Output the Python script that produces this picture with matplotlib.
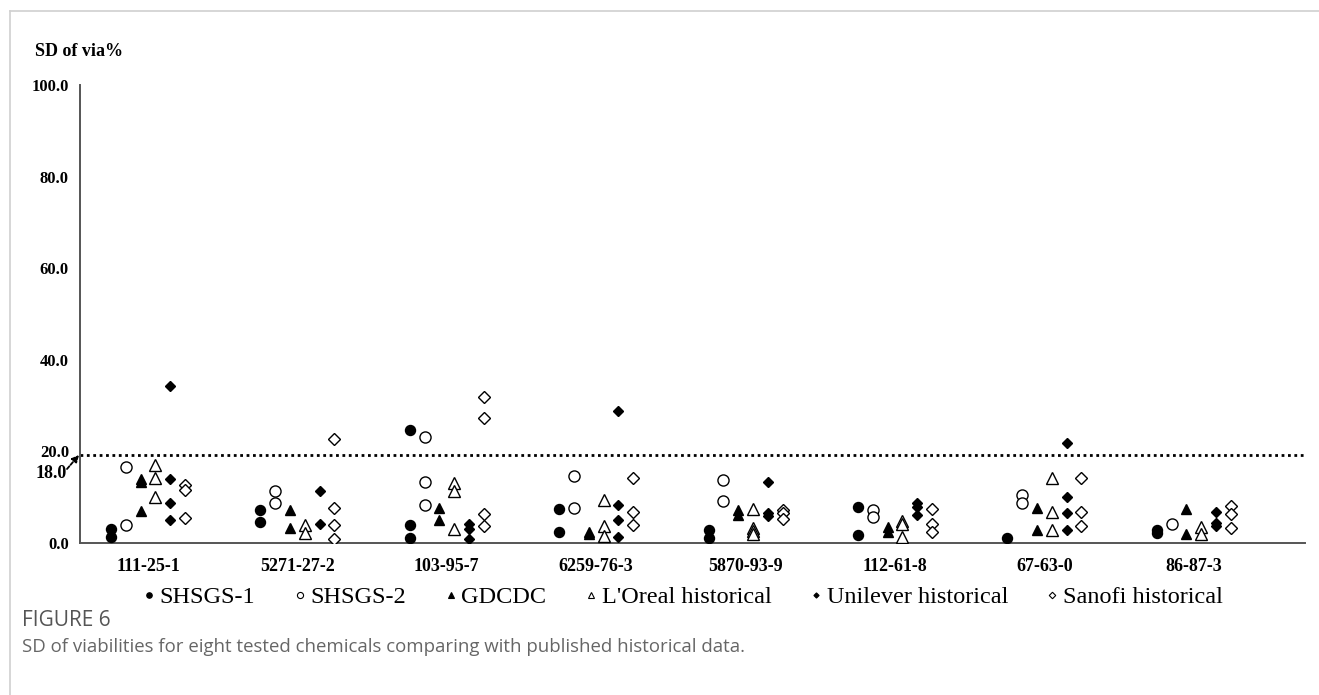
import numpy as np
import matplotlib
matplotlib.use("Agg")
import matplotlib.pyplot as plt
from matplotlib.lines import Line2D

categories = ["111-25-1", "5271-27-2", "103-95-7", "6259-76-3",
              "5870-93-9", "112-61-8", "67-63-0", "86-87-3"]

shsgs1 = [[3.0, 1.4], [7.1, 4.5], [24.7, 3.9, 1.1], [7.4, 2.3],
          [2.8, 1.2], [7.9, 1.7], [1.2], [2.8, 2.1]]
shsgs2 = [[16.7, 3.9], [11.4, 8.7], [23.1, 13.4, 8.4], [14.7, 7.6],
          [13.7, 9.2], [7.1, 5.6], [10.5, 8.7], [4.1]]
gdcdc = [[13.9, 13.4, 6.9], [7.1, 3.3], [7.6, 5.0], [2.4, 1.9],
         [7.1, 6.1], [3.4, 2.5], [7.6, 2.8], [7.4, 1.9]]
loreal = [[17.1, 14.3, 10.1], [3.9, 2.1], [13.2, 11.4, 3.0], [9.4, 3.8, 1.5],
          [7.4, 3.3, 2.6, 1.9], [4.9, 4.1, 1.4], [14.3, 6.7, 2.8], [3.4, 2.0]]
unilever = [[34.3, 14.0, 8.7, 5.0], [11.4, 4.1], [4.1, 3.0, 0.9], [28.8, 8.3, 5.0, 1.4],
            [13.3, 6.6, 5.9], [8.8, 7.8, 6.1], [21.9, 10.1, 6.5, 2.8], [6.8, 4.4, 3.7]]
sanofi = [[12.7, 11.6, 5.4], [22.8, 7.7, 3.9, 0.8], [31.8, 27.2, 6.3, 3.7], [14.2, 6.8, 3.9],
          [7.2, 6.5, 5.2], [7.4, 4.1, 2.3], [14.1, 6.8, 3.8], [8.1, 6.3, 3.3]]

series_names = ["SHSGS-1", "SHSGS-2", "GDCDC", "L'Oreal historical",
                "Unilever historical", "Sanofi historical"]
threshold = 19.2
yticks = [0.0, 20.0, 40.0, 60.0, 80.0, 100.0]

series_data = [shsgs1, shsgs2, gdcdc, loreal, unilever, sanofi]
styles = [
    dict(marker="o", mfc="black", mec="black", ms=7.2, mew=1.0),
    dict(marker="o", mfc="white", mec="black", ms=8.0, mew=1.0),
    dict(marker="^", mfc="black", mec="black", ms=7.0, mew=1.0),
    dict(marker="^", mfc="white", mec="black", ms=8.0, mew=1.0),
    dict(marker="D", mfc="black", mec="black", ms=4.8, mew=1.0),
    dict(marker="D", mfc="white", mec="black", ms=6.0, mew=1.0),
]

serif = ["Liberation Serif", "DejaVu Serif"]
sans = ["Open Sans", "DejaVu Sans"]

W, H = 1319, 695
fig = plt.figure(figsize=(W / 100, H / 100), dpi=100)
fig.patch.set_facecolor("white")

x0, x1 = 80, 1305
y0, y1 = 543, 85
ax = fig.add_axes([x0 / W, (H - y0) / H, (x1 - x0) / W, (y0 - y1) / H])

offsets = (np.arange(6) - 2.5) * 0.099
xpos = np.arange(len(categories))
for k, (data, st) in enumerate(zip(series_data, styles)):
    xs, ys = [], []
    for i, vals in enumerate(data):
        for v in vals:
            xs.append(xpos[i] + offsets[k])
            ys.append(v)
    ax.plot(xs, ys, linestyle="none", zorder=3, **st)

ax.set_xlim(-0.455, 7.744)
ax.set_ylim(0, 100)
ax.axhline(threshold, color="black", linestyle=(0, (1, 1.3)), linewidth=2.0, zorder=2)

ax.set_xticks(xpos)
ax.set_xticklabels(categories, fontfamily=serif, fontweight="bold", fontsize=13)
ax.set_yticks(yticks)
ax.set_yticklabels([f"{t:.1f}" for t in yticks], fontfamily=serif,
                   fontweight="bold", fontsize=12)
ax.tick_params(axis="both", length=0)
ax.tick_params(axis="y", pad=8)
ax.tick_params(axis="x", pad=11)
for s in ["top", "right"]:
    ax.spines[s].set_visible(False)
for s in ["left", "bottom"]:
    ax.spines[s].set_color("#555555")
    ax.spines[s].set_linewidth(1.4)

# 18.0 annotation with arrow
fig.text(51 / W, 1 - 473 / H, "18.0", ha="center", va="center",
         fontfamily=serif, fontweight="bold", fontsize=13)
ax.annotate("", xy=(79 / W, 1 - 455 / H), xycoords="figure fraction",
            xytext=(67 / W, 1 - 469 / H), textcoords="figure fraction",
            arrowprops=dict(arrowstyle="-|>", color="black", lw=1.3,
                            linestyle=(0, (2, 1)), mutation_scale=10,
                            shrinkA=0, shrinkB=0))

fig.text(35 / W, 1 - 52 / H, "SD of via%", ha="left", va="center",
         fontfamily=serif, fontweight="bold", fontsize=13)

# Legend
handles = [Line2D([], [], linestyle="none", marker=st["marker"], mfc=st["mfc"],
                  mec="black", ms=st["ms"] * 0.55, mew=0.8) for st in styles]
fig.legend(handles, series_names, loc="center", bbox_to_anchor=(0.518, 1 - 597 / H),
           ncol=6, frameon=False, prop=dict(family=serif, size=17.5),
           handlelength=0.45, handletextpad=0.22, columnspacing=1.6,
           borderaxespad=0)

# Caption
fig.text(22 / W, 1 - 620 / H, "FIGURE 6", ha="left", va="center",
         fontfamily=sans, fontsize=15, color="#555555")
fig.text(22 / W, 1 - 647 / H,
         "SD of viabilities for eight tested chemicals comparing with published historical data.",
         ha="left", va="center", fontfamily=sans, fontsize=13.4, color="#666666")

# Panel border lines
fig.add_artist(Line2D([10 / W, 10 / W], [0, 1 - 11 / H], color="#d0d0d0", lw=1.2))
fig.add_artist(Line2D([10 / W, 1], [1 - 11 / H, 1 - 11 / H], color="#d0d0d0", lw=1.2))

fig.savefig("out.png", dpi=100, facecolor="white")
